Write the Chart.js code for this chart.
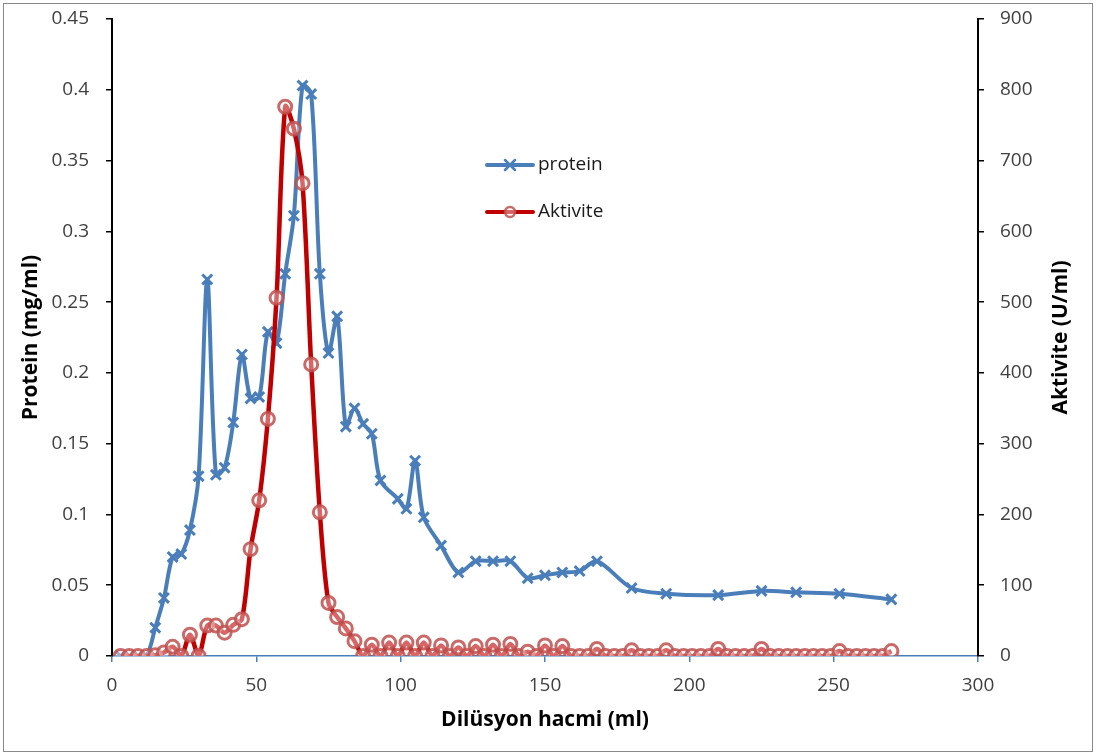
<!DOCTYPE html>
<html>
<head>
<meta charset="utf-8">
<title>Protein ve aktivite</title>
<script src="https://cdn.jsdelivr.net/npm/chart.js@4.4.0/dist/chart.umd.min.js"></script>
<style>
  html, body { margin: 0; padding: 0; background: #fff; }
  #wrap { width: 1096px; height: 755px; }
</style>
</head>
<body>
<div id="wrap"><canvas id="elutionChart" width="1096" height="755"></canvas></div>
<script>
// Elution volume (ml) for each protein reading
const proteinVolumes = [3, 6, 9, 12, 15, 18, 21, 24, 27, 30, 33, 36, 39, 42, 45, 48, 51, 54, 57, 60,
    63, 66, 69, 72, 75, 78, 81, 84, 87, 90, 93, 99, 102, 105, 108, 114, 120, 126, 132, 138,
    144, 150, 156, 162, 168, 180, 192, 210, 225, 237, 252, 270];
// Protein (mg/ml)
const proteinValues = [0, 0, 0, 0, 0.02, 0.041, 0.07, 0.072, 0.089, 0.127, 0.266, 0.128, 0.133, 0.165, 0.213, 0.182, 0.183, 0.229, 0.221, 0.27,
    0.311, 0.403, 0.397, 0.27, 0.214, 0.24, 0.162, 0.175, 0.164, 0.157, 0.124, 0.111, 0.104, 0.138, 0.098, 0.078, 0.059, 0.067, 0.067, 0.067,
    0.055, 0.057, 0.059, 0.06, 0.067, 0.048, 0.044, 0.043, 0.046, 0.045, 0.044, 0.04];

// Elution volume (ml) for each activity reading
const activityVolumes = [3, 6, 9, 12, 15, 18, 21, 24, 27, 30, 33, 36, 39, 42, 45, 48, 51, 54, 57, 60,
    63, 66, 69, 72, 75, 78, 81, 84, 87, 90, 93, 96, 99, 102, 105, 108, 111, 114, 117, 120,
    123, 126, 129, 132, 135, 138, 141, 144, 147, 150, 153, 156, 159, 162, 165, 168, 171, 174, 177, 180,
    183, 186, 189, 192, 195, 198, 201, 204, 207, 210, 213, 216, 219, 222, 225, 228, 231, 234, 237, 240,
    243, 246, 249, 252, 255, 258, 261, 264, 267, 270];
// Aktivite (U/ml)
const activityValues = [0, 0, 0, 0, 1, 5, 13, 0, 30, 0, 43, 43, 33, 44, 52, 151, 220, 335, 506, 776,
    745, 668, 412, 203, 75, 55, 39, 21, 0, 16, 0, 19, 0, 19, 0, 19, 0, 15, 0, 12,
    0, 14, 0, 16, 0, 17, 0, 6, 0, 15, 0, 14, 0, 0, 0, 10, 0, 0, 0, 8,
    0, 0, 0, 8, 0, 0, 0, 0, 0, 10, 0, 0, 0, 0, 10, 0, 0, 0, 0, 0,
    0, 0, 0, 7, 0, 0, 0, 0, 0, 7];

// axis ranges: [min, max, step]
const volumeAxis = [0, 300, 50];
const proteinAxis = [0, 0.45, 0.05];
const activityAxis = [0, 900, 100];

const labels = {
    x: 'Dilüsyon hacmi (ml)',
    left: 'Protein (mg/ml)',
    right: 'Aktivite (U/ml)',
    protein: 'protein',
    activity: 'Aktivite'
};

const BLUE = '#4a7ebb';
const RED = '#c00000';
const RED_MARK = 'rgba(192, 80, 77, 0.85)';
const TEXT = '#404040';
const FONT = "'Open Sans', sans-serif";
const TICK_SIZE = 19;
const TITLE_SIZE = 21;

function toPoints(xs, ys) {
    return xs.map((x, i) => ({ x: x, y: ys[i] }));
}

// 0.40 -> "0.4", 0.05 -> "0.05"
function shortNumber(v) {
    return String(Number(v.toFixed(2)));
}

// y scales: fixed width, and don't let tick padding push the plot down
function fixVertical(width) {
    return scale => {
        scale.width = width;
        scale.paddingTop = 10;
        scale.paddingBottom = 10;
    };
}

// frame, right-hand title and the in-plot legend
const extras = {
    id: 'extras',
    beforeDraw(chart) {
        const ctx = chart.ctx;
        ctx.save();
        ctx.fillStyle = '#fff';
        ctx.fillRect(0, 0, chart.width, chart.height);
        ctx.strokeStyle = '#898989';
        ctx.lineWidth = 1;
        ctx.strokeRect(3.5, 3.5, chart.width - 7, chart.height - 7);
        ctx.restore();
    },
    afterDraw(chart) {
        const ctx = chart.ctx;
        const area = chart.chartArea;
        ctx.save();

        // right axis title reads bottom to top like the left one
        ctx.translate(1061, (area.top + area.bottom) / 2);
        ctx.rotate(-Math.PI / 2);
        ctx.font = 'bold ' + TITLE_SIZE + 'px ' + FONT;
        ctx.fillStyle = '#000';
        ctx.textAlign = 'center';
        ctx.textBaseline = 'middle';
        ctx.fillText(labels.right, 0, 0);
        ctx.setTransform(1, 0, 0, 1, 0, 0);

        // legend
        const lx = 487, lw = 46;
        const rows = [
            { y: 165, color: BLUE, text: labels.protein, mark: 'cross' },
            { y: 212, color: RED, text: labels.activity, mark: 'circle' }
        ];
        rows.forEach(r => {
            ctx.strokeStyle = r.color;
            ctx.lineWidth = 4;
            ctx.lineCap = 'round';
            ctx.beginPath();
            ctx.moveTo(lx, r.y);
            ctx.lineTo(lx + lw, r.y);
            ctx.stroke();
            const cx = lx + lw / 2;
            if (r.mark === 'cross') {
                ctx.lineWidth = 2.5;
                ctx.beginPath();
                ctx.moveTo(cx - 5, r.y - 5);
                ctx.lineTo(cx + 5, r.y + 5);
                ctx.moveTo(cx + 5, r.y - 5);
                ctx.lineTo(cx - 5, r.y + 5);
                ctx.stroke();
            } else {
                ctx.lineWidth = 2.5;
                ctx.strokeStyle = RED_MARK;
                ctx.fillStyle = 'rgba(255,255,255,0.4)';
                ctx.beginPath();
                ctx.arc(cx, r.y, 5, 0, Math.PI * 2);
                ctx.fill();
                ctx.stroke();
            }
            ctx.font = '19px ' + FONT;
            ctx.fillStyle = '#1a1a1a';
            ctx.textAlign = 'left';
            ctx.textBaseline = 'middle';
            ctx.fillText(r.text, lx + lw + 5, r.y);
        });
        ctx.restore();
    }
};

const ctx = document.getElementById('elutionChart').getContext('2d');

new Chart(ctx, {
    type: 'line',
    data: {
        datasets: [
            {
                label: labels.activity,
                data: toPoints(activityVolumes, activityValues),
                yAxisID: 'yAct',
                borderColor: RED,
                borderWidth: 4.5,
                tension: 0.3,
                pointStyle: 'circle',
                pointRadius: 6.5,
                pointBorderWidth: 3,
                pointBorderColor: RED_MARK,
                pointBackgroundColor: 'rgba(255,255,255,0.4)',
                order: 0
            },
            {
                label: labels.protein,
                data: toPoints(proteinVolumes, proteinValues),
                yAxisID: 'yProt',
                borderColor: BLUE,
                borderWidth: 4,
                tension: 0.3,
                pointStyle: 'crossRot',
                pointRadius: 7,
                pointBorderWidth: 3,
                pointBorderColor: BLUE,
                order: 1
            }
        ]
    },
    options: {
        responsive: false,
        animation: false,
        layout: { autoPadding: false, padding: { top: 19 } },
        plugins: {
            legend: { display: false },
            tooltip: { enabled: false }
        },
        scales: {
            x: {
                type: 'linear',
                min: volumeAxis[0],
                max: volumeAxis[1],
                ticks: {
                    stepSize: volumeAxis[2],
                    padding: 12,
                    color: TEXT,
                    font: { family: FONT, size: TICK_SIZE },
                    maxRotation: 0
                },
                grid: { drawOnChartArea: false, tickLength: 6, color: BLUE, lineWidth: 1.5 },
                border: { display: true, color: BLUE, width: 1.5 },
                title: {
                    display: true,
                    text: labels.x,
                    color: '#000',
                    font: { family: FONT, size: TITLE_SIZE, weight: 'bold' },
                    padding: { top: 0, bottom: 22 }
                },
                afterFit(scale) { scale.height = 99; }
            },
            yProt: {
                type: 'linear',
                position: 'left',
                min: proteinAxis[0],
                max: proteinAxis[1],
                ticks: {
                    stepSize: proteinAxis[2],
                    padding: 17,
                    color: TEXT,
                    font: { family: FONT, size: TICK_SIZE },
                    callback: v => shortNumber(v)
                },
                grid: { drawOnChartArea: false, tickLength: 6, color: '#000', lineWidth: 1.5 },
                border: { display: true, color: '#000', width: 2 },
                title: {
                    display: true,
                    text: labels.left,
                    color: '#000',
                    font: { family: FONT, size: TITLE_SIZE, weight: 'bold' },
                    padding: { top: 18, bottom: 0 }
                },
                afterFit: fixVertical(112)
            },
            yAct: {
                type: 'linear',
                position: 'right',
                min: activityAxis[0],
                max: activityAxis[1],
                ticks: {
                    stepSize: activityAxis[2],
                    padding: 16,
                    color: TEXT,
                    font: { family: FONT, size: TICK_SIZE }
                },
                grid: { drawOnChartArea: false, tickLength: 6, color: '#000', lineWidth: 1.5 },
                border: { display: true, color: '#000', width: 2 },
                afterFit: fixVertical(118)
            }
        }
    },
    plugins: [extras]
});
</script>
</body>
</html>
